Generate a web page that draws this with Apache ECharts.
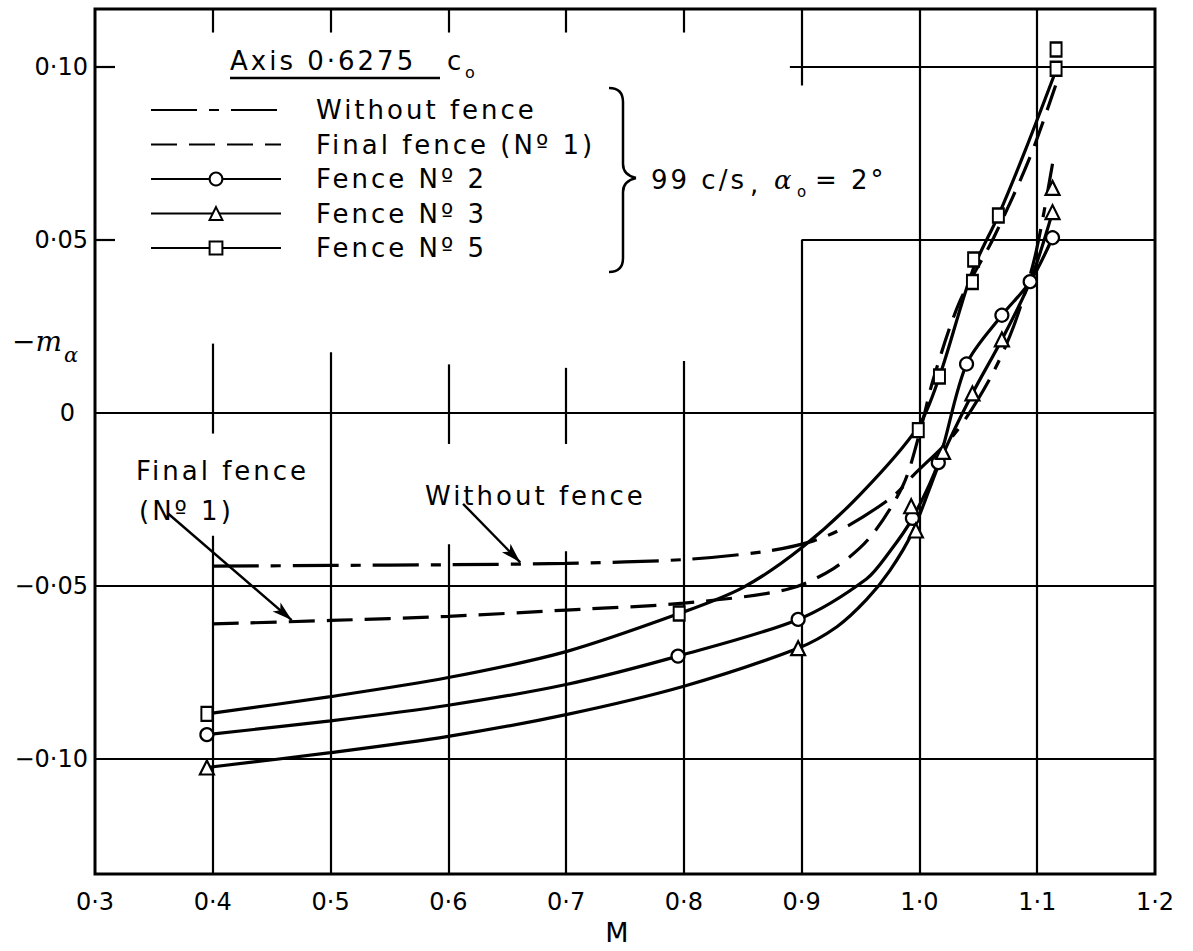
<!DOCTYPE html>
<html>
<head>
<meta charset="utf-8">
<script src="https://cdn.jsdelivr.net/npm/echarts@6/dist/echarts.min.js"></script>
<style>
html,body{margin:0;padding:0;background:#fff;}
#chart{width:1193px;height:951px;}
#chart text[style*="26px"]{letter-spacing:3px;}
</style>
</head>
<body>
<div id="chart"></div>
<script>
const FONT = 'DejaVu Sans';
const SERIF = 'DejaVu Serif';

// ---- axis ticks ----
const xTickValues = [0.3, 0.4, 0.5, 0.6, 0.7, 0.8, 0.9, 1.0, 1.1, 1.2];
const yTickValues = [-0.10, -0.05, 0, 0.05, 0.10];
const Y_MIN = -0.1333, Y_MAX = 0.1167;

// ---- series names ----
const seriesNames = ['Without fence', 'Final fence (Nº 1)', 'Fence Nº 2', 'Fence Nº 3', 'Fence Nº 5'];

// ---- curves [M, -m_alpha] ----
const withoutFence = [[0.4,-0.0443],[0.5,-0.0441],[0.6,-0.0439],[0.7,-0.0435],[0.8,-0.0424],[0.87,-0.0400],[0.91,-0.0370],[0.94,-0.0325],[0.978,-0.0240],[0.995,-0.0180],[1.03,-0.0060],[1.06,0.0100],[1.08,0.0250],[1.098,0.0450],[1.113,0.0720]];
const finalFence = [[0.4,-0.0610],[0.5,-0.0600],[0.6,-0.0588],[0.7,-0.0570],[0.8,-0.0550],[0.888,-0.0510],[0.927,-0.0450],[0.958,-0.0360],[0.986,-0.0210],[1.0,-0.0060],[1.012,0.0100],[1.034,0.0320],[1.063,0.0506],[1.094,0.0740],[1.118,0.0970]];
const fence2Curve = [[0.395,-0.0930],[0.5,-0.0890],[0.6,-0.0845],[0.7,-0.0785],[0.795,-0.0703],[0.897,-0.0597],[0.955,-0.0480],[0.975,-0.0400],[0.994,-0.0305],[1.016,-0.0144],[1.04,0.0141],[1.07,0.0282],[1.094,0.0379],[1.113,0.0506]];
const fence3Curve = [[0.395,-0.1025],[0.5,-0.0982],[0.6,-0.0935],[0.7,-0.0872],[0.8,-0.0790],[0.897,-0.0680],[0.93,-0.0618],[0.955,-0.0540],[0.975,-0.0455],[0.994,-0.0345],[1.02,-0.0120],[1.045,0.0056],[1.07,0.0212],[1.094,0.0380],[1.113,0.0580]];
const fence5Curve = [[0.395,-0.0870],[0.5,-0.0820],[0.6,-0.0765],[0.7,-0.0690],[0.796,-0.0580],[0.85,-0.0505],[0.9,-0.0390],[0.95,-0.0235],[0.999,-0.0040],[1.017,0.0105],[1.045,0.0410],[1.067,0.0570],[1.09,0.0760],[1.116,0.0990]];

// ---- plotted test points ----
const fence2Points = [[0.395,-0.0930],[0.795,-0.0703],[0.897,-0.0597],[0.994,-0.0305],[1.016,-0.0144],[1.04,0.0141],[1.07,0.0282],[1.094,0.0379],[1.113,0.0506]];
const fence3Points = [[0.395,-0.1025],[0.897,-0.0680],[0.993,-0.0270],[0.997,-0.0340],[1.02,-0.0113],[1.045,0.0056],[1.07,0.0212],[1.113,0.0580],[1.113,0.0650]];
const fence5Points = [[0.395,-0.0870],[0.796,-0.0580],[0.999,-0.0050],[1.017,0.0105],[1.045,0.0378],[1.046,0.0443],[1.067,0.0570],[1.116,0.0994],[1.116,0.1050]];

// ---- hand-drawn grid pieces (data coordinates) ----
const gridSegments = [
  [[0.3,0],[1.2,0]], [[0.3,-0.05],[1.2,-0.05]], [[0.3,-0.10],[1.2,-0.10]],
  [[0.9,0.05],[1.2,0.05]], [[0.89,0.10],[1.2,0.10]],
  [[0.3,0.10],[0.317,0.10]], [[0.3,0.05],[0.317,0.05]],
  [[0.4,0.020],[0.4,-0.006]], [[0.4,-0.0355],[0.4,Y_MIN]],
  [[0.5,0.0175],[0.5,Y_MIN]],
  [[0.6,0.014],[0.6,-0.009]], [[0.6,-0.038],[0.6,Y_MIN]],
  [[0.7,0.013],[0.7,-0.009]], [[0.7,-0.040],[0.7,Y_MIN]],
  [[0.8,0.015],[0.8,Y_MIN]],
  [[0.9,Y_MAX],[0.9,0.0946]], [[0.9,0.05],[0.9,Y_MIN]],
  [[1.0,Y_MAX],[1.0,Y_MIN]], [[1.1,Y_MAX],[1.1,Y_MIN]],
  [[0.4,Y_MAX],[0.4,Y_MAX-0.0068]], [[0.5,Y_MAX],[0.5,Y_MAX-0.0068]],
  [[0.6,Y_MAX],[0.6,Y_MAX-0.0068]], [[0.7,Y_MAX],[0.7,Y_MAX-0.0068]],
  [[0.8,Y_MAX],[0.8,Y_MAX-0.0068]]
];
const annotationArrows = [
  [[0.362,-0.0291],[0.467,-0.0599]],
  [[0.6125,-0.0263],[0.661,-0.0432]]
];

function fmtX(v){ return (Math.round(v*10)/10).toFixed(1).replace('.', '·'); }
function fmtY(v){
  const r = Math.round(v*100)/100;
  if (r === 0) return '{z|0}';
  return (r < 0 ? '−' : '') + Math.abs(r).toFixed(2).replace('.', '·');
}

const LINE_W = 3.2;
const DASH_DOT = [46, 12, 10, 12];
const DASH = [26, 12];

function curveSeries(name, data, dash, symbol) {
  return {
    name: name, type: 'line', data: data, smooth: 0.3,
    symbol: symbol, showSymbol: false, color: '#000',
    lineStyle: { color: '#000', width: LINE_W, type: dash },
    z: 3, silent: true
  };
}
function pointSeries(name, data, symbol, size) {
  return {
    name: name, type: 'scatter', data: data, symbol: symbol, symbolSize: size,
    itemStyle: { color: '#fff', borderColor: '#000', borderWidth: 2.2, opacity: 1 },
    z: 5, silent: true
  };
}

const chart = echarts.init(document.getElementById('chart'), null, { renderer: 'svg', width: 1193, height: 951 });

function txt(x, y, text, size, extra) {
  return {
    type: 'text', x: x, y: y, z: 10, silent: true,
    style: Object.assign({ text: text, fontFamily: FONT, fontSize: size, fill: '#000', verticalAlign: 'middle', align: 'left' }, extra || {})
  };
}
function seg(x1, y1, x2, y2) {
  return { type: 'line', z: 10, silent: true, shape: { x1: x1, y1: y1, x2: x2, y2: y2 }, style: { stroke: '#000', lineWidth: 2.5 } };
}
function curve(x1, y1, cx, cy, x2, y2) {
  return { type: 'bezierCurve', z: 10, silent: true, shape: { x1: x1, y1: y1, cpx1: cx, cpy1: cy, x2: x2, y2: y2 }, style: { stroke: '#000', lineWidth: 2.5, fill: null } };
}

const option = {
  backgroundColor: '#fff',
  animation: false,
  grid: { left: 95, right: 38, top: 9, bottom: 57, show: true, borderColor: '#000', borderWidth: 3, backgroundColor: 'transparent' },
  xAxis: {
    type: 'value', min: 0.3, max: 1.2, interval: 0.1,
    name: 'M', nameLocation: 'middle', nameGap: 32,
    nameTextStyle: { fontFamily: FONT, fontSize: 27, color: '#000', padding: [0, 16, 0, 0] },
    axisLine: { show: false }, axisTick: { show: false }, splitLine: { show: false },
    axisLabel: { formatter: fmtX, fontFamily: FONT, fontSize: 24, color: '#000', margin: 16 }
  },
  yAxis: {
    type: 'value', min: Y_MIN, max: Y_MAX,
    axisLine: { show: false }, axisTick: { show: false }, splitLine: { show: false },
    axisLabel: {
      customValues: yTickValues, formatter: fmtY, fontFamily: FONT, fontSize: 24, color: '#000', margin: 7,
      rich: { z: { fontFamily: FONT, fontSize: 24, color: '#000', padding: [0, 13, 0, 0] } }
    }
  },
  legend: {
    orient: 'vertical', left: 150, top: 95, padding: 0,
    itemWidth: 130, itemHeight: 16, itemGap: 4.5, selectedMode: false,
    textStyle: { fontFamily: FONT, fontSize: 26, color: '#000', lineHeight: 30, padding: [0, 0, 0, 30] },
    data: [
      { name: seriesNames[0], itemStyle: { opacity: 0 } },
      { name: seriesNames[1], itemStyle: { opacity: 0 } },
      seriesNames[2], seriesNames[3], seriesNames[4]
    ]
  },
  series: [
    {
      name: 'grid pieces', type: 'scatter', data: [], silent: true, z: 1,
      markLine: {
        silent: true, symbol: ['none', 'none'], animation: false,
        label: { show: false },
        lineStyle: { color: '#000', width: 2.2, type: 'solid' },
        emphasis: { disabled: true },
        data: gridSegments.map(s => [{ coord: s[0] }, { coord: s[1] }])
      }
    },
    {
      name: 'annotation arrows', type: 'scatter', data: [], silent: true, z: 2,
      markLine: {
        silent: true, symbol: ['none', 'arrow'], symbolSize: [9, 20], animation: false,
        label: { show: false },
        lineStyle: { color: '#000', width: 2.4, type: 'solid' },
        itemStyle: { color: '#000' },
        emphasis: { disabled: true },
        data: annotationArrows.map(s => [{ coord: s[0] }, { coord: s[1] }])
      }
    },
    curveSeries(seriesNames[0], withoutFence, DASH_DOT, 'none'),
    curveSeries(seriesNames[1], finalFence, DASH, 'none'),
    curveSeries(seriesNames[2], fence2Curve, 'solid', 'emptyCircle'),
    curveSeries(seriesNames[3], fence3Curve, 'solid', 'emptyTriangle'),
    curveSeries(seriesNames[4], fence5Curve, 'solid', 'emptyRect'),
    pointSeries('Fence Nº 2 points', fence2Points, 'circle', 13),
    pointSeries('Fence Nº 3 points', fence3Points, 'triangle', 14),
    pointSeries('Fence Nº 5 points', fence5Points, 'rect', [11, 14])
  ],
  graphic: [
    txt(230, 61, 'Axis 0·6275', 26),
    txt(447, 61, 'c', 26),
    txt(465, 72, 'o', 16),
    seg(230, 78, 440, 78),
    curve(609, 88, 623, 88, 623, 102),
    seg(623, 102, 623, 164),
    curve(623, 164, 623, 175, 636, 178),
    curve(636, 178, 623, 181, 623, 192),
    seg(623, 192, 623, 258),
    curve(623, 258, 623, 272, 609, 272),
    txt(651, 180, '99 c/s', 26),
    txt(750, 184, ',', 26),
    txt(774, 180, 'α', 26, { fontFamily: SERIF, fontStyle: 'italic' }),
    txt(797, 192, 'o', 15),
    txt(815, 180, '= 2°', 26),
    txt(136, 471, 'Final fence', 26),
    txt(139, 511, '(Nº 1)', 26),
    txt(425, 496, 'Without fence', 26),
    txt(12, 341, '−m', 28, { fontFamily: SERIF, fontStyle: 'italic' }),
    txt(64, 355, 'α', 21, { fontFamily: SERIF, fontStyle: 'italic' })
  ]
};
chart.setOption(option);
</script>
</body>
</html>
